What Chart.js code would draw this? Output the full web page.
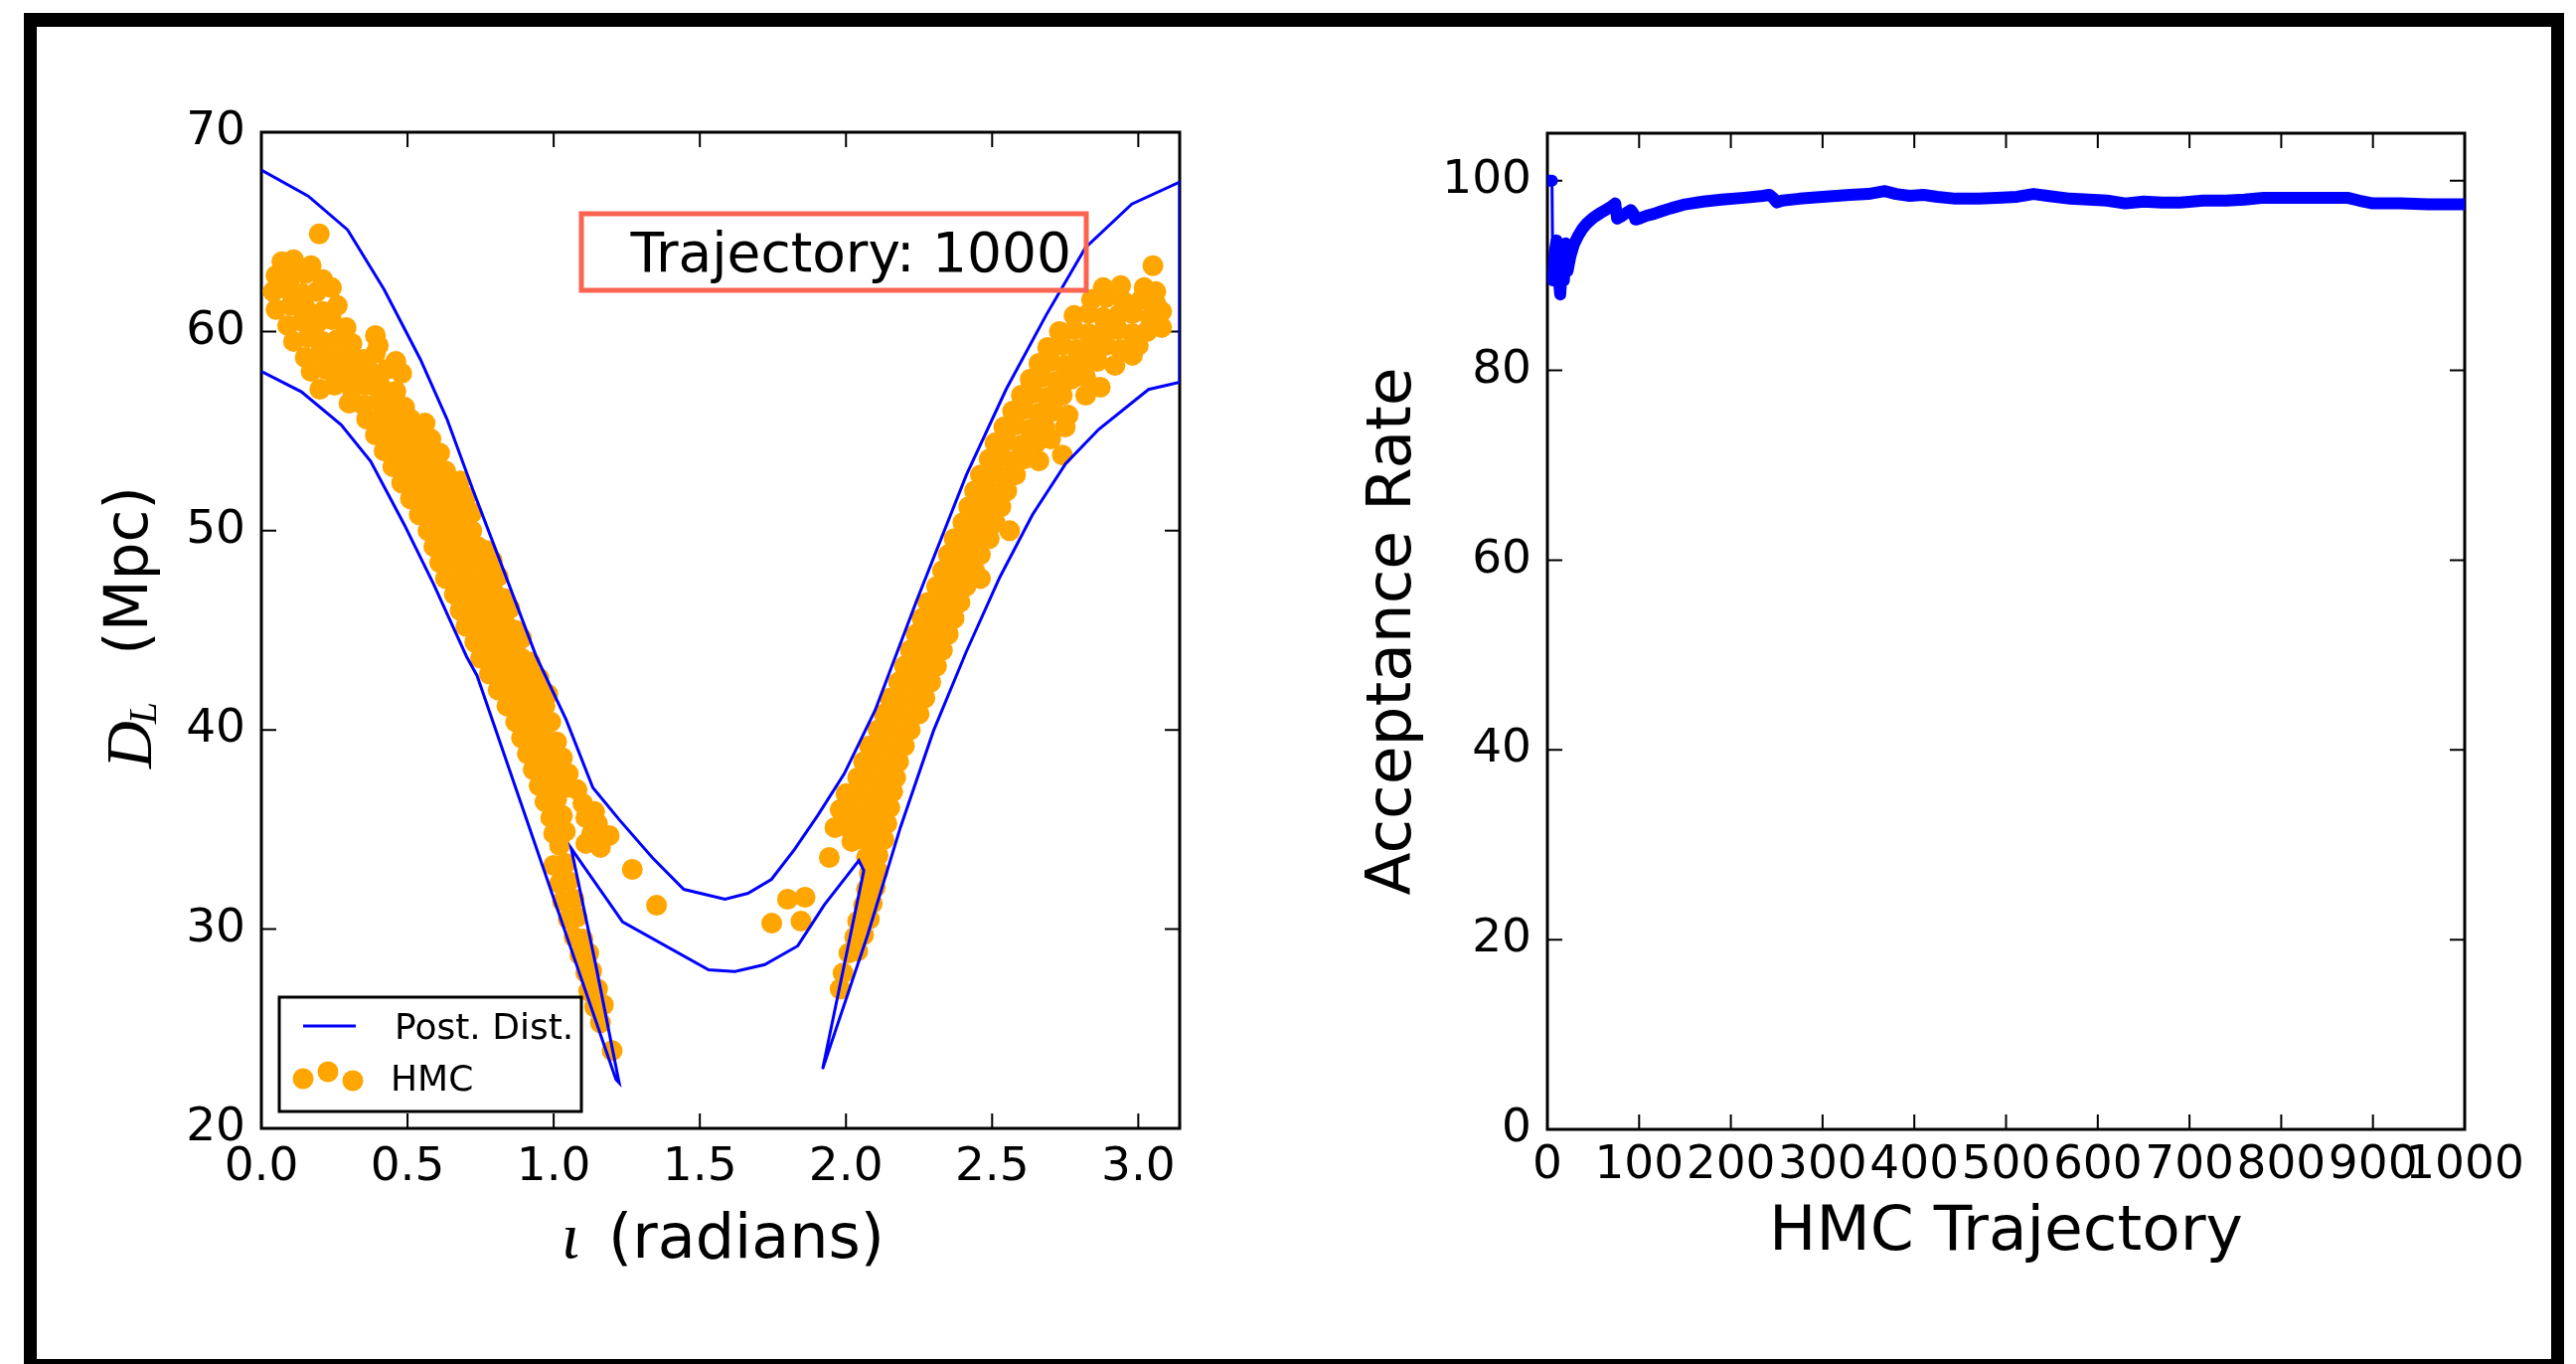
<!DOCTYPE html>
<html lang="en">
<head>
<meta charset="UTF-8">
<title>HMC trajectory</title>
<script src="https://cdn.jsdelivr.net/npm/chart.js"></script>
<style>
  body { margin: 0; background: #fff; }
  .page { position: relative; width: 2592px; height: 1372px; overflow: hidden; background: #fff; }
  .frame { position: absolute; left: 24px; top: 13px; right: 12px; bottom: 0; border: solid #000; border-width: 14px 13px 5px 13px; }
  canvas { position: absolute; top: 0; }
  #distance { left: 0; }
  #acceptance { left: 1300px; }
</style>
</head>
<body>
<div class="page">
  <div class="frame"></div>
  <canvas id="distance" width="1300" height="1372"></canvas>
  <canvas id="acceptance" width="1292" height="1372"></canvas>
</div>

<script>
// ---- left panel: posterior contour and HMC samples (iota vs D_L) ----
const distTicksX = [0, 0.5, 1, 1.5, 2, 2.5, 3];
const distTicksY = [20, 30, 40, 50, 60, 70];

const postUpperX = [0, 0.16, 0.295, 0.42, 0.544, 0.635, 0.725, 0.816, 0.94, 1.043, 1.134, 1.224, 1.337, 1.445, 1.586, 1.665, 1.745, 1.824, 1.903, 1.994, 2.10, 2.242, 2.412, 2.548, 2.684, 2.819, 2.978, 3.1416];
const postUpperY = [68.1, 66.8, 65.1, 62.1, 58.6, 55.6, 52.0, 48.5, 43.7, 40.5, 37.1, 35.5, 33.6, 32.0, 31.5, 31.8, 32.5, 34.0, 35.7, 37.8, 41.0, 46.5, 52.8, 57.1, 60.8, 64.2, 66.4, 67.5];

const postLowerX = [0, 0.137, 0.273, 0.374, 0.488, 0.589, 0.702, 0.738, 0.887, 1.048, 1.213, 1.224, 1.145, 1.06, 1.236, 1.53, 1.62, 1.722, 1.835, 1.926, 2.044, 2.061, 1.92, 2.073, 2.186, 2.299, 2.412, 2.526, 2.638, 2.752, 2.865, 3.035, 3.1416];
const postLowerY = [58.0, 56.97, 55.31, 53.48, 50.33, 47.33, 43.68, 42.72, 36.37, 29.5, 22.46, 22.29, 28.13, 34.05, 30.36, 27.96, 27.87, 28.22, 29.16, 31.22, 33.45, 32.94, 22.98, 29.66, 35.1, 39.94, 43.94, 47.66, 50.8, 53.37, 55.09, 57.09, 57.45];

// HMC samples [iota, D_L]
const hmcLeftArm = [
  [0.198, 64.9],
  [0.07, 63.5], [0.11, 63.6], [0.17, 63.3],
  [0.05, 62.8], [0.10, 62.7], [0.15, 62.9], [0.21, 62.6],
  [0.04, 62.0], [0.09, 62.1], [0.14, 61.9], [0.19, 62.0], [0.24, 62.2],
  [0.05, 61.1], [0.10, 61.3], [0.15, 61.2], [0.21, 61.0], [0.26, 61.3],
  [0.09, 60.3], [0.14, 60.5], [0.19, 60.4], [0.24, 60.6], [0.29, 60.2], [0.39, 59.8],
  [0.11, 59.5], [0.16, 59.7], [0.21, 59.5], [0.26, 59.6], [0.31, 59.4], [0.40, 59.3],
  [0.15, 58.7], [0.20, 58.9], [0.25, 58.7], [0.30, 58.8], [0.35, 58.6], [0.39, 58.9], [0.46, 58.5],
  [0.17, 58.0], [0.22, 58.1], [0.28, 57.9], [0.33, 58.0], [0.38, 57.9], [0.43, 58.1], [0.48, 57.9],
  [0.20, 57.1], [0.25, 57.3], [0.31, 57.1], [0.36, 57.3], [0.41, 57.2], [0.46, 57.0],
  [0.30, 56.4], [0.35, 56.3], [0.40, 56.5], [0.45, 56.4], [0.49, 56.2],
  [0.36, 55.6], [0.41, 55.7], [0.46, 55.5], [0.51, 55.6], [0.56, 55.4],
  [0.39, 54.8], [0.44, 54.9], [0.49, 54.7], [0.54, 54.8], [0.58, 54.6],
  [0.42, 54.0], [0.47, 54.1], [0.52, 53.9], [0.57, 54.0], [0.61, 53.9],
  [0.45, 53.2], [0.50, 53.3], [0.55, 53.1], [0.60, 53.2], [0.63, 53.0],
  [0.48, 52.4], [0.53, 52.5], [0.58, 52.3], [0.63, 52.4], [0.68, 52.5],
  [0.51, 51.6], [0.56, 51.7], [0.61, 51.5], [0.66, 51.6], [0.70, 51.7],
  [0.54, 50.8], [0.59, 50.9], [0.64, 50.7], [0.69, 50.8], [0.72, 50.9],
  [0.57, 50.0], [0.62, 50.1], [0.67, 49.9], [0.72, 50.0],
  [0.59, 49.2], [0.64, 49.3], [0.69, 49.1], [0.74, 49.2], [0.77, 49.0],
  [0.61, 48.4], [0.66, 48.5], [0.71, 48.3], [0.76, 48.4], [0.79, 48.5],
  [0.63, 47.6], [0.68, 47.7], [0.73, 47.5], [0.78, 47.6], [0.81, 47.7],
  [0.66, 46.8], [0.71, 46.9], [0.76, 46.7], [0.80, 46.8], [0.83, 46.6],
  [0.68, 46.0], [0.73, 46.1], [0.78, 45.9], [0.82, 46.0], [0.85, 46.1],
  [0.70, 45.2], [0.75, 45.3], [0.80, 45.1], [0.84, 45.2], [0.87, 45.0],
  [0.73, 44.4], [0.78, 44.5], [0.83, 44.3], [0.87, 44.4], [0.89, 44.6],
  [0.75, 43.6], [0.80, 43.7], [0.85, 43.5], [0.89, 43.6], [0.92, 43.4],
  [0.78, 42.8], [0.83, 42.9], [0.88, 42.7], [0.92, 42.8], [0.95, 42.6],
  [0.81, 42.0], [0.86, 42.1], [0.91, 41.9], [0.95, 42.0], [0.98, 41.8],
  [0.84, 41.2], [0.89, 41.3], [0.93, 41.1], [0.97, 41.2],
  [0.87, 40.4], [0.91, 40.5], [0.95, 40.3], [0.99, 40.4],
  [0.89, 39.6], [0.93, 39.7], [0.97, 39.5], [1.01, 39.4],
  [0.91, 38.8], [0.95, 38.9], [0.99, 38.7], [1.03, 38.6],
  [0.93, 38.0], [0.97, 38.1], [1.01, 37.9], [1.05, 37.8],
  [0.95, 37.2], [0.99, 37.3], [1.04, 37.1], [1.08, 37.0],
  [0.97, 36.4], [1.01, 36.5], [1.10, 36.3], [1.14, 35.9],
  [0.99, 35.6], [1.03, 35.7], [1.11, 35.6], [1.15, 35.3],
  [1.00, 34.8], [1.04, 34.9], [1.13, 34.8], [1.17, 34.6], [1.19, 34.7],
  [1.02, 34.2], [1.11, 34.3], [1.16, 34.1],
  [1.00, 33.2], [1.04, 33.3],
  [1.02, 32.3], [1.05, 32.4],
  [1.03, 31.4], [1.07, 31.5],
  [1.05, 30.5], [1.08, 30.6],
  [1.07, 29.6], [1.10, 29.5],
  [1.09, 28.7], [1.12, 28.8],
  [1.11, 27.8], [1.13, 27.9],
  [1.12, 26.9], [1.15, 27.0],
  [1.14, 26.1], [1.17, 26.2],
  [1.16, 25.3],
  [1.20, 23.9]
];

const hmcValley = [
  [1.269, 33.0], [1.352, 31.2], [1.746, 30.3], [1.80, 31.5], [1.86, 31.6],
  [1.846, 30.4], [1.943, 33.6], [1.962, 35.1]
];

const hmcRightArm = [
  [1.98, 27.0], [1.99, 27.8],
  [2.01, 28.8], [2.04, 28.9],
  [2.03, 29.6], [2.06, 29.7],
  [2.04, 30.4], [2.08, 30.5],
  [2.06, 31.2], [2.09, 31.3],
  [2.07, 32.0], [2.10, 32.1],
  [2.08, 32.8], [2.11, 32.9],
  [2.07, 33.6], [2.11, 33.7],
  [2.02, 34.4], [2.06, 34.5], [2.10, 34.3], [2.13, 34.5],
  [1.99, 35.2], [2.03, 35.3], [2.07, 35.1], [2.11, 35.2], [2.14, 35.3],
  [1.98, 36.0], [2.02, 36.1], [2.06, 35.9], [2.10, 36.0], [2.15, 36.1],
  [2.00, 36.8], [2.05, 36.9], [2.09, 36.7], [2.13, 36.8], [2.16, 36.9],
  [2.04, 37.6], [2.08, 37.7], [2.12, 37.5], [2.17, 37.6],
  [2.06, 38.4], [2.10, 38.5], [2.14, 38.3], [2.18, 38.4],
  [2.08, 39.2], [2.12, 39.3], [2.16, 39.1], [2.20, 39.2],
  [2.11, 40.0], [2.15, 40.1], [2.19, 39.9], [2.22, 40.0],
  [2.13, 40.8], [2.17, 40.9], [2.21, 40.7], [2.25, 40.8],
  [2.15, 41.6], [2.19, 41.7], [2.23, 41.5], [2.27, 41.6],
  [2.18, 42.4], [2.22, 42.5], [2.26, 42.3], [2.29, 42.4],
  [2.20, 43.2], [2.24, 43.3], [2.28, 43.1], [2.31, 43.2],
  [2.22, 44.0], [2.26, 44.1], [2.30, 43.9], [2.33, 44.0],
  [2.24, 44.8], [2.28, 44.9], [2.32, 44.7], [2.35, 44.8],
  [2.26, 45.6], [2.30, 45.7], [2.34, 45.5], [2.37, 45.6],
  [2.28, 46.4], [2.32, 46.5], [2.36, 46.3], [2.39, 46.4],
  [2.31, 47.2], [2.35, 47.3], [2.39, 47.1], [2.41, 47.2], [2.46, 47.6],
  [2.33, 48.0], [2.37, 48.1], [2.41, 47.9], [2.44, 48.0],
  [2.35, 48.8], [2.39, 48.9], [2.43, 48.7], [2.46, 48.8],
  [2.37, 49.6], [2.41, 49.7], [2.45, 49.5], [2.49, 49.6], [2.56, 50.0],
  [2.40, 50.4], [2.44, 50.5], [2.48, 50.3], [2.51, 50.4],
  [2.42, 51.2], [2.46, 51.3], [2.50, 51.1], [2.53, 51.2],
  [2.44, 52.0], [2.48, 52.1], [2.52, 51.9], [2.55, 52.0],
  [2.46, 52.8], [2.50, 52.9], [2.54, 52.7], [2.58, 52.8],
  [2.49, 53.6], [2.53, 53.7], [2.57, 53.5], [2.61, 53.6], [2.66, 53.5], [2.74, 53.8],
  [2.51, 54.4], [2.55, 54.5], [2.60, 54.3], [2.65, 54.4], [2.70, 54.6],
  [2.54, 55.2], [2.58, 55.3], [2.63, 55.1], [2.68, 55.2], [2.75, 55.2],
  [2.57, 56.0], [2.61, 56.1], [2.66, 55.9], [2.71, 56.0], [2.76, 55.8],
  [2.60, 56.8], [2.64, 56.9], [2.69, 56.7], [2.74, 56.8], [2.82, 56.8], [2.87, 57.2],
  [2.63, 57.6], [2.67, 57.7], [2.72, 57.5], [2.77, 57.6], [2.82, 57.7],
  [2.66, 58.4], [2.70, 58.5], [2.75, 58.3], [2.80, 58.4], [2.86, 58.5], [2.92, 58.3], [2.98, 58.8],
  [2.69, 59.2], [2.74, 59.3], [2.79, 59.1], [2.84, 59.2], [2.89, 59.3], [2.94, 59.1], [3.00, 59.3],
  [2.73, 60.0], [2.78, 60.1], [2.83, 59.9], [2.88, 60.0], [2.93, 60.1], [2.98, 59.9], [3.03, 60.0], [3.08, 60.2],
  [2.78, 60.8], [2.83, 60.9], [2.88, 60.7], [2.93, 60.8], [2.98, 60.9], [3.04, 60.7], [3.08, 61.0],
  [2.84, 61.6], [2.89, 61.7], [2.95, 61.5], [3.01, 61.6], [3.06, 61.4],
  [2.88, 62.2], [2.94, 62.3], [3.02, 62.2], [3.06, 62.0],
  [3.05, 63.3]
];

// ---- right panel: running acceptance rate ----
const rateTicksX = [0, 100, 200, 300, 400, 500, 600, 700, 800, 900, 1000];
const rateTicksY = [0, 20, 40, 60, 80, 100];

const rateTraj = [0, 2, 5, 6, 8, 10, 12, 14, 16, 18, 20, 22, 25, 29, 33, 38, 43, 50, 58, 65,
  70, 74, 76, 80, 86, 91, 94, 96, 100, 108, 116, 125, 135, 150, 170, 190, 215, 235, 242, 246,
  250, 256, 275, 300, 330, 350, 368, 380, 395, 410, 425, 445, 470, 490, 512, 530, 545, 570, 590, 610,
  630, 650, 670, 690, 715, 740, 760, 781, 810, 840, 872, 885, 900, 930, 960, 1000];
const rateValue = [100, 100, 100, 89.5, 92.5, 93.7, 90, 88, 91, 89.5, 93.4, 90.5, 92, 93.3, 94.1, 94.9, 95.5, 96.1, 96.6, 97.0,
  97.3, 97.6, 96.0, 96.2, 96.6, 96.9, 96.5, 95.9, 96.0, 96.3, 96.5, 96.8, 97.1, 97.5, 97.8, 98.0, 98.2, 98.4, 98.5, 98.2,
  97.7, 97.9, 98.1, 98.3, 98.5, 98.6, 98.9, 98.6, 98.4, 98.5, 98.3, 98.1, 98.1, 98.2, 98.3, 98.6, 98.4, 98.1, 98.0, 97.9,
  97.6, 97.8, 97.7, 97.7, 97.9, 97.9, 98.0, 98.2, 98.2, 98.2, 98.2, 97.9, 97.6, 97.6, 97.5, 97.5];

const SANS = 'DejaVu Sans';
const tickFont = { family: SANS, size: 47 };

Chart.defaults.font.family = SANS;
Chart.defaults.color = '#000';

// inward ticks on all four sides plus the box, like classic matplotlib axes
const axesFrame = {
  id: 'axesFrame',
  beforeDatasetsDraw(chart) {
    const { ctx, chartArea: a, scales: { x, y } } = chart;
    const len = 15;
    ctx.save();
    ctx.strokeStyle = '#000';
    ctx.lineWidth = 2;
    ctx.beginPath();
    x.ticks.forEach(t => {
      const px = x.getPixelForValue(t.value);
      ctx.moveTo(px, a.bottom); ctx.lineTo(px, a.bottom - len);
      ctx.moveTo(px, a.top); ctx.lineTo(px, a.top + len);
    });
    y.ticks.forEach(t => {
      const py = y.getPixelForValue(t.value);
      ctx.moveTo(a.left, py); ctx.lineTo(a.left + len, py);
      ctx.moveTo(a.right, py); ctx.lineTo(a.right - len, py);
    });
    ctx.stroke();
    ctx.lineWidth = 3;
    ctx.strokeRect(a.left, a.top, a.right - a.left, a.bottom - a.top);
    ctx.restore();
  }
};

// axis titles with the math symbols (D_L and iota)
const distanceTitles = {
  id: 'distanceTitles',
  afterDraw(chart) {
    const { ctx, chartArea: a } = chart;
    const midY = (a.top + a.bottom) / 2;
    const midX = (a.left + a.right) / 2;
    ctx.save();
    ctx.fillStyle = '#000';
    ctx.textBaseline = 'alphabetic';

    ctx.save();
    ctx.translate(148, midY - 3);
    ctx.rotate(-Math.PI / 2);
    ctx.font = 'italic 66px "Liberation Serif"';
    let x = -142;
    ctx.fillText('D', x, 4);
    x += ctx.measureText('D').width - 3;
    ctx.font = 'italic 40px "Liberation Serif"';
    ctx.fillText('L', x, 9);
    ctx.font = '60px "' + SANS + '"';
    ctx.textAlign = 'right';
    ctx.fillText('(Mpc)', 142, 0);
    ctx.restore();

    ctx.font = 'italic 66px "Liberation Serif"';
    ctx.fillText('\u03b9', midX - 160, 1265);
    ctx.font = '62px "' + SANS + '"';
    ctx.fillText('(radians)', midX - 113, 1265);
    ctx.restore();
  }
};

const distanceLegend = {
  id: 'distanceLegend',
  afterDraw(chart) {
    const ctx = chart.ctx;
    const [line, dots] = chart.data.datasets;
    ctx.save();
    ctx.fillStyle = '#fff';
    ctx.fillRect(281, 1003, 304, 115);
    ctx.lineWidth = 3;
    ctx.strokeStyle = '#000';
    ctx.strokeRect(281, 1003, 304, 115);
    ctx.strokeStyle = line.borderColor;
    ctx.lineWidth = line.borderWidth;
    ctx.beginPath();
    ctx.moveTo(305, 1032);
    ctx.lineTo(358, 1032);
    ctx.stroke();
    ctx.fillStyle = dots.backgroundColor;
    [[305, 1085], [330, 1078], [355, 1087]].forEach(([cx, cy]) => {
      ctx.beginPath();
      ctx.arc(cx, cy, dots.pointRadius, 0, Math.PI * 2);
      ctx.fill();
    });
    ctx.fillStyle = '#000';
    ctx.font = '36px "' + SANS + '"';
    ctx.fillText(line.label, 397, 1045);
    ctx.fillText(dots.label, 393, 1097);
    ctx.restore();
  }
};

const trajectoryNote = {
  id: 'trajectoryNote',
  afterDraw(chart) {
    const ctx = chart.ctx;
    ctx.save();
    ctx.strokeStyle = '#fa6450';
    ctx.lineWidth = 5;
    ctx.strokeRect(585, 215, 508, 77);
    ctx.fillStyle = '#000';
    ctx.font = '55px "' + SANS + '"';
    ctx.textAlign = 'right';
    ctx.fillText('Trajectory: ' + rateTraj[rateTraj.length - 1], 1078, 273);
    ctx.restore();
  }
};

const contour = postUpperX.map((x, i) => ({ x, y: postUpperY[i] }))
  .concat(postLowerX.map((x, i) => ({ x, y: postLowerY[i] })).reverse());
const samples = hmcLeftArm.concat(hmcValley, hmcRightArm).map(([x, y]) => ({ x, y }));

new Chart(document.getElementById('distance'), {
  type: 'scatter',
  data: {
    datasets: [
      { label: 'Post. Dist.', data: contour, showLine: true, borderColor: '#0000ff', borderWidth: 3,
        pointRadius: 0, pointHoverRadius: 0, tension: 0 },
      { label: 'HMC', data: samples, backgroundColor: '#ffa500', borderWidth: 0,
        pointRadius: 10.5, pointHoverRadius: 10.5 }
    ]
  },
  options: {
    responsive: false,
    animation: false,
    devicePixelRatio: 1,
    events: [],
    layout: { padding: { left: 0, top: 133, right: 113, bottom: 0 } },
    plugins: { legend: { display: false }, tooltip: { enabled: false } },
    scales: {
      x: {
        type: 'linear', min: 0, max: Math.PI,
        afterBuildTicks: s => { s.ticks = distTicksX.map(v => ({ value: v })); },
        afterFit: s => { s.height = 237; },
        grid: { display: false, drawTicks: false },
        border: { display: false },
        ticks: { font: tickFont, color: '#000', padding: 12, maxRotation: 0, minRotation: 0, autoSkip: false,
          callback: v => v.toFixed(1) }
      },
      y: {
        type: 'linear', min: 20, max: 70,
        afterBuildTicks: s => { s.ticks = distTicksY.map(v => ({ value: v })); },
        afterFit: s => { s.width = 263; },
        grid: { display: false, drawTicks: false },
        border: { display: false },
        ticks: { font: tickFont, color: '#000', padding: 16, autoSkip: false, callback: v => String(v) }
      }
    }
  },
  plugins: [axesFrame, distanceTitles, distanceLegend, trajectoryNote]
});

new Chart(document.getElementById('acceptance'), {
  type: 'scatter',
  data: {
    datasets: [{
      label: 'Acceptance Rate',
      data: rateTraj.map((x, i) => ({ x, y: rateValue[i] })),
      showLine: true,
      borderColor: '#0000ff',
      backgroundColor: '#0000ff',
      borderWidth: 12,
      borderCapStyle: 'round',
      borderJoinStyle: 'round',
      pointRadius: 0,
      pointHoverRadius: 0,
      tension: 0,
      segment: { borderWidth: c => Math.abs(c.p1.parsed.y - c.p0.parsed.y) > 8 ? 3 : undefined }
    }]
  },
  options: {
    responsive: false,
    animation: false,
    devicePixelRatio: 1,
    events: [],
    layout: { padding: { left: 65, top: 134, right: 112, bottom: 94 } },
    plugins: { legend: { display: false }, tooltip: { enabled: false } },
    scales: {
      x: {
        type: 'linear', min: 0, max: 1000,
        afterBuildTicks: s => { s.ticks = rateTicksX.map(v => ({ value: v })); },
        afterFit: s => { s.height = 142; },
        grid: { display: false, drawTicks: false },
        border: { display: false },
        ticks: { font: tickFont, color: '#000', padding: 9, maxRotation: 0, minRotation: 0, autoSkip: false,
          callback: v => String(v) },
        title: { display: true, text: 'HMC Trajectory', color: '#000', padding: 0, font: { family: SANS, size: 63 } }
      },
      y: {
        type: 'linear', min: 0, max: 105,
        afterBuildTicks: s => { s.ticks = rateTicksY.map(v => ({ value: v })); },
        afterFit: s => { s.width = 192; },
        grid: { display: false, drawTicks: false },
        border: { display: false },
        ticks: { font: tickFont, color: '#000', padding: 16, autoSkip: false, callback: v => String(v) },
        title: { display: true, text: 'Acceptance Rate', color: '#000', padding: 0, font: { family: SANS, size: 63 } }
      }
    }
  },
  plugins: [axesFrame]
});
</script>
</body>
</html>
